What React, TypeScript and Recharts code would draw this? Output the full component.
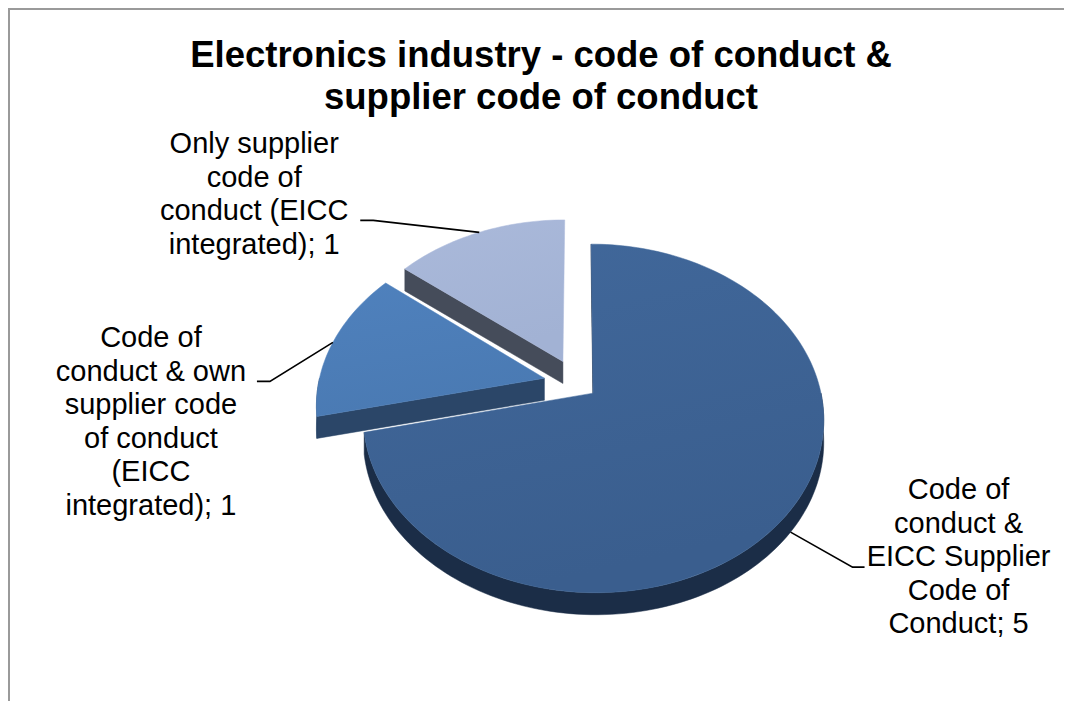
import React from 'react';
import { PieChart, Pie, Cell } from 'recharts';

// ---- data ----
const categories = [
  'Only supplier code of conduct (EICC integrated)',
  'Code of conduct & own supplier code of conduct (EICC integrated)',
  'Code of conduct & EICC Supplier Code of Conduct',
];
const values = [1, 1, 5];
const categoryLines = [
  ['Only supplier', 'code of', 'conduct (EICC', 'integrated)'],
  ['Code of', 'conduct & own', 'supplier code', 'of conduct', '(EICC', 'integrated)'],
  ['Code of', 'conduct &', 'EICC Supplier', 'Code of', 'Conduct'],
];
const chartTitle = ['Electronics industry - code of conduct &', 'supplier code of conduct'];

const data = categories.map((name, i) => ({ name, value: values[i] }));

// ---- style ----
const TOP = ['#AAB9DA', '#4F81BD', '#41689B'];
const TOP_DARK = ['#A2B2D4', '#4A7AB3', '#3A5E8E'];
const SIDE = ['#454C5A', '#2B4668', '#1B2D47'];
const EXPLODE = [34, 34, 20];
const PERSP = 1570; // perspective distance
const TILT = 0.743; // vertical squash
const DEPTH = 22; // wall height
const RAD = Math.PI / 180;
const FONT = '"Liberation Sans", Arial, sans-serif';
const LABEL_LAYOUT = [
  { ex: -106, ey: -12, tail: -13, bx: -106, by: -67 },
  { ex: -63, ey: 39, tail: -13, bx: -106, by: -34 },
  { ex: 62, ey: 35, tail: 12, bx: 94, by: -68 },
];
const LINE_H = 33.5;

function proj(cx: number, cy: number, X: number, Z: number, down = 0): [number, number] {
  const f = PERSP / (PERSP + Z);
  return [cx + X * f, cy - TILT * Z * f + down];
}

function idxOf(p: any): number {
  const n = p?.name ?? p?.payload?.name;
  const i = categories.indexOf(n);
  return i < 0 ? 0 : i;
}

function sampleAngles(a0: number, a1: number): number[] {
  const n = Math.max(2, Math.ceil((a1 - a0) / 1.5));
  const out: number[] = [];
  for (let k = 0; k <= n; k++) out.push(a0 + ((a1 - a0) * k) / n);
  return out;
}

const pt = (p: [number, number]) => `${p[0].toFixed(2)},${p[1].toFixed(2)}`;

function SliceShape(props: any) {
  const { cx, cy, outerRadius, startAngle, endAngle } = props;
  const i = idxOf(props);
  const a0 = Math.min(startAngle, endAngle);
  const a1 = Math.max(startAngle, endAngle);
  const mid = ((a0 + a1) / 2) * RAD;
  const vx = EXPLODE[i] * Math.cos(mid);
  const vz = EXPLODE[i] * Math.sin(mid);
  const R = outerRadius;
  const rim = (a: number, down = 0) =>
    proj(cx, cy, vx + R * Math.cos(a * RAD), vz + R * Math.sin(a * RAD), down);
  const v = proj(cx, cy, vx, vz);
  const vb = proj(cx, cy, vx, vz, DEPTH);

  const walls: React.ReactNode[] = [];
  const radialWall = (a: number, key: string) => {
    const r1 = rim(a);
    const r2 = rim(a, DEPTH);
    walls.push(
      <path key={key} d={`M${pt(v)} L${pt(r1)} L${pt(r2)} L${pt(vb)} Z`} fill={SIDE[i]} stroke={SIDE[i]} strokeWidth={0.5} />
    );
  };
  if (Math.cos(a0 * RAD) > 1e-6) radialWall(a0, 'w0');
  if (Math.cos(a1 * RAD) < -1e-6) radialWall(a1, 'w1');

  // outer wall on the front half (sin < 0)
  for (let k = -1; k <= 2; k++) {
    const f0 = 180 + 360 * k;
    const f1 = 360 + 360 * k;
    const b0 = Math.max(a0, f0);
    const b1 = Math.min(a1, f1);
    if (b1 - b0 > 0.01) {
      const angs = sampleAngles(b0, b1);
      const top = angs.map((a) => rim(a));
      const bot = angs.map((a) => rim(a, DEPTH)).reverse();
      const d = 'M' + [...top, ...bot].map(pt).join(' L') + ' Z';
      walls.push(<path key={'o' + k} d={d} fill={SIDE[i]} stroke={SIDE[i]} strokeWidth={0.5} />);
    }
  }

  const arc = sampleAngles(a0, a1).map((a) => rim(a));
  const topD = `M${pt(v)} L` + arc.map(pt).join(' L') + ' Z';

  return (
    <g>
      <defs>
        <linearGradient id={`top${i}`} x1="0" y1="0" x2="0.3" y2="1">
          <stop offset="0%" stopColor={TOP[i]} />
          <stop offset="100%" stopColor={TOP_DARK[i]} />
        </linearGradient>
      </defs>
      {walls}
      <path d={topD} fill={`url(#top${i})`} stroke={TOP[i]} strokeWidth={0.5} />
    </g>
  );
}

function renderLabel(props: any) {
  const { cx, cy, outerRadius, midAngle } = props;
  const i = idxOf(props);
  const m = midAngle * RAD;
  const vx = EXPLODE[i] * Math.cos(m);
  const vz = EXPLODE[i] * Math.sin(m);
  const down = Math.sin(m) < 0 ? DEPTH : 0;
  const S = proj(cx, cy, vx + outerRadius * Math.cos(m), vz + outerRadius * Math.sin(m), down);
  const L = LABEL_LAYOUT[i];
  const E: [number, number] = [S[0] + L.ex, S[1] + L.ey];
  const T: [number, number] = [E[0] + L.tail, E[1]];
  const lines = [...categoryLines[i]];
  lines[lines.length - 1] = `${lines[lines.length - 1]}; ${values[i]}`;
  const bx = T[0] + L.bx;
  const by = T[1] + L.by;
  return (
    <g key={'lbl' + i}>
      <polyline points={`${pt(S)} ${pt(E)} ${pt(T)}`} fill="none" stroke="#000" strokeWidth={1.6} />
      {lines.map((ln, k) => (
        <text key={k} x={bx} y={by + k * LINE_H} textAnchor="middle" fontFamily={FONT} fontSize={29} fill="#000">
          {ln}
        </text>
      ))}
    </g>
  );
}

export default function App() {
  return (
    <div style={{ position: 'relative', width: 1064, height: 693 }}>
      <style>{`html,body{overflow:hidden;}`}</style>
      <PieChart width={1064} height={693}>
        <Pie
          data={data}
          dataKey="value"
          nameKey="name"
          cx={564.4}
          cy={370.8}
          outerRadius={226}
          startAngle={90}
          endAngle={450}
          stroke="none"
          isAnimationActive={false}
          labelLine={false}
          label={renderLabel}
          shape={SliceShape}
        >
          {data.map((d, i) => (
            <Cell key={d.name} fill={TOP[i]} />
          ))}
        </Pie>
      </PieChart>
      <div
        style={{
          position: 'absolute',
          left: 0,
          top: 0,
          width: 1064,
          height: 693,
          borderTop: '2px solid #9a9a9a',
          borderLeft: '2px solid #9a9a9a',
          boxSizing: 'border-box',
          pointerEvents: 'none',
        }}
      />
      <div
        style={{
          position: 'absolute',
          left: 0,
          top: 26,
          width: 1066,
          textAlign: 'center',
          fontFamily: FONT,
          fontWeight: 'bold',
          fontSize: 36.5,
          lineHeight: '42px',
          color: '#000',
          pointerEvents: 'none',
        }}
      >
        {chartTitle.map((t) => (
          <div key={t}>{t}</div>
        ))}
      </div>
    </div>
  );
}
